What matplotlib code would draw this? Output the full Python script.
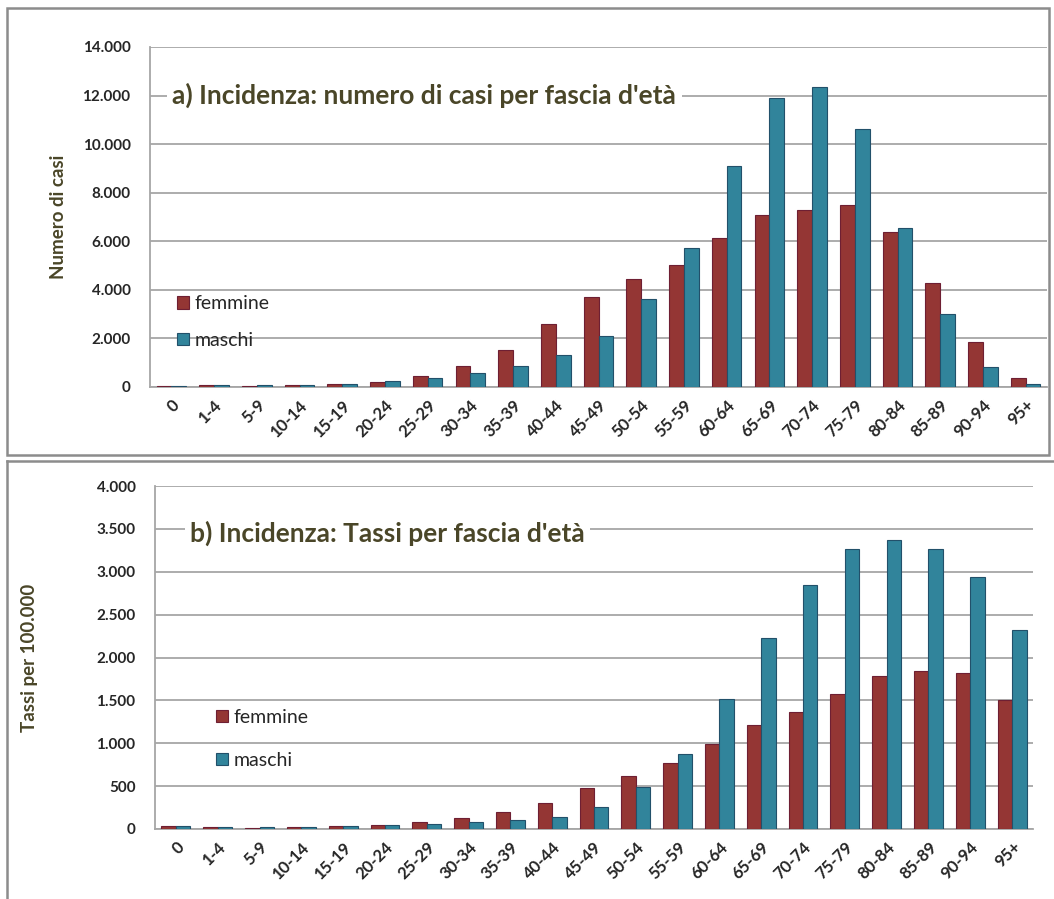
import matplotlib.pyplot as plt
import numpy as np
from matplotlib.patches import Rectangle
from matplotlib.lines import Line2D

plt.rcParams['font.family'] = ['Lato', 'DejaVu Sans']

# fasce d'età
fasce = ['0', '1-4', '5-9', '10-14', '15-19', '20-24', '25-29', '30-34', '35-39', '40-44',
         '45-49', '50-54', '55-59', '60-64', '65-69', '70-74', '75-79', '80-84', '85-89',
         '90-94', '95+']

# a) numero di casi
casi_femmine = [40, 80, 40, 80, 120, 200, 440, 880, 1520, 2600, 3700, 4460, 5020, 6130,
                7090, 7300, 7490, 6380, 4270, 1870, 380]
casi_maschi = [40, 80, 80, 80, 120, 250, 360, 560, 880, 1320, 2110, 3620, 5710, 9090,
               11890, 12370, 10640, 6540, 2990, 840, 120]

# b) tassi per 100.000
tassi_femmine = [35, 23, 12, 23, 35, 47, 81, 124, 194, 307, 475, 623, 774, 988,
                 1218, 1366, 1580, 1782, 1848, 1825, 1510]
tassi_maschi = [35, 23, 23, 23, 35, 47, 58, 81, 105, 140, 261, 490, 872, 1521,
                2233, 2840, 3260, 3370, 3260, 2942, 2319]

ROSSO = '#943634'
BLU = '#31849B'
TESTO = '#4A4628'

fig = plt.figure(figsize=(10.54, 8.99), dpi=100)

# cornici dei due pannelli
fig.add_artist(Rectangle((7 / 1054, 1 - 455 / 899), 1042 / 1054, 447 / 899,
                         transform=fig.transFigure, fill=False, ec='#8C8C8C', lw=1.8))
fig.add_artist(Line2D([7 / 1054, 7 / 1054], [0, 1 - 461 / 899], transform=fig.transFigure,
                      color='#8C8C8C', lw=1.8))
fig.add_artist(Line2D([7 / 1054, 1], [1 - 461 / 899, 1 - 461 / 899], transform=fig.transFigure,
                      color='#8C8C8C', lw=1.8))


def pannello(ax, femmine, maschi, ymax, passo, fmt_y, ylabel, titolo, tit_pos, leg_pos,
             leg_spazio, ylab_x):
    x = np.arange(len(fasce))
    w = 0.345
    ax.bar(x - w / 2, femmine, w, color=ROSSO, edgecolor='#6E1F33', linewidth=0.8,
           label='femmine', zorder=3)
    ax.bar(x + w / 2, maschi, w, color=BLU, edgecolor='#22506A', linewidth=0.8,
           label='maschi', zorder=3)
    ax.set_xlim(-0.5, len(fasce) - 0.5)
    ax.set_ylim(0, ymax)
    ax.set_yticks(np.arange(0, ymax + 1, passo))
    ax.set_yticklabels([fmt_y(v) for v in np.arange(0, ymax + 1, passo)],
                       fontsize=11, fontweight='bold', color='#262626')
    ax.set_xticks(x)
    ax.set_xticklabels(fasce, rotation=45, ha='right', rotation_mode='anchor',
                       fontsize=12, fontweight='bold', color='#262626')
    ax.tick_params(axis='both', length=0)
    ax.tick_params(axis='y', pad=14)
    ax.tick_params(axis='x', pad=7)
    ax.grid(axis='y', color='#A6A6A6', linewidth=1.3, zorder=0)
    for s in ['top', 'right']:
        ax.spines[s].set_visible(False)
    for s in ['left', 'bottom']:
        ax.spines[s].set_color('#A6A6A6')
        ax.spines[s].set_linewidth(1.3)
    ax.set_ylabel(ylabel, fontsize=13.5, fontweight='bold', color=TESTO)
    ax.yaxis.set_label_coords(ylab_x, 0.5)
    ax.text(tit_pos[0], tit_pos[1], titolo, transform=ax.transAxes, fontsize=19,
            fontweight='bold', color=TESTO, ha='left', va='center', zorder=5,
            bbox=dict(facecolor='white', edgecolor='none', pad=4))
    leg = ax.legend(loc='upper left', bbox_to_anchor=leg_pos, frameon=False, fontsize=14,
                    handlelength=0.6, handleheight=0.6, handletextpad=0.3,
                    labelspacing=leg_spazio)
    for t in leg.get_texts():
        t.set_color('#262626')


fmt = lambda v: f'{int(v):,}'.replace(',', '.')

ax1 = fig.add_axes([150 / 1054, 1 - 387 / 899, 897 / 1054, 340 / 899])
pannello(ax1, casi_femmine, casi_maschi, 14000, 2000, fmt, 'Numero di casi',
         "a) Incidenza: numero di casi per fascia d'età", (0.025, 0.858),
         (0.011, 0.321), 1.0, -0.093)

ax2 = fig.add_axes([155 / 1054, 1 - 829 / 899, 878 / 1054, 343 / 899])
pannello(ax2, tassi_femmine, tassi_maschi, 4000, 500, fmt, 'Tassi per 100.000',
         "b) Incidenza: Tassi per fascia d'età", (0.04, 0.862),
         (0.050, 0.402), 1.35, -0.133)

fig.savefig('out.png', dpi=100)
